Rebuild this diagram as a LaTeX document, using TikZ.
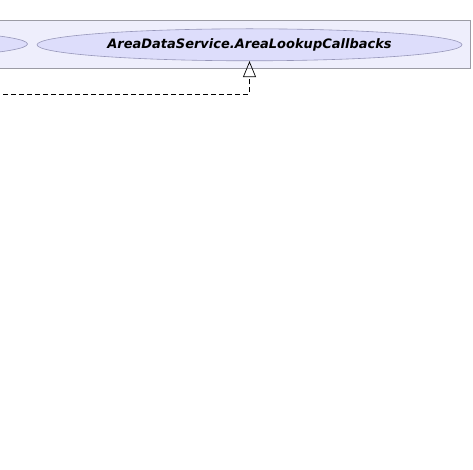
\documentclass[tikz,border=0pt]{standalone}
\usepackage{fontspec}
\setmainfont{DejaVu Sans}
\usetikzlibrary{arrows.meta,shapes.geometric}
\definecolor{panelfill}{RGB}{238,238,252}
\definecolor{panelline}{RGB}{155,155,165}
\definecolor{ellfill}{RGB}{221,221,251}
\definecolor{ellline}{RGB}{150,150,185}
\tikzset{
  x=1pt,y=-1pt,
  classnode/.style={ellipse,draw=ellline,fill=ellfill,line width=0.6pt,
    minimum width=425pt,minimum height=32pt,inner sep=0pt,
    font=\bfseries\itshape\fontsize{13}{15}\selectfont},
  realize/.style={draw=black,dash pattern=on 5pt off 3pt,line width=0.7pt,-{Triangle[open,width=13pt,length=16pt]}}
}
\begin{document}
\begin{tikzpicture}
\useasboundingbox (0,0) rectangle (473,470);
\clip (0,0) rectangle (473,470);
\draw[draw=panelline,fill=panelfill,line width=0.6pt] (-10,20) rectangle (470,68);
\node[classnode] (other) at (-185,44) {};
\node[classnode] (cb) at (249.5,44.8) {AreaDataService.AreaLookupCallbacks};
\coordinate (src) at (-5,94);
\draw[realize] (src) -| (cb.south);
\end{tikzpicture}
\end{document}
